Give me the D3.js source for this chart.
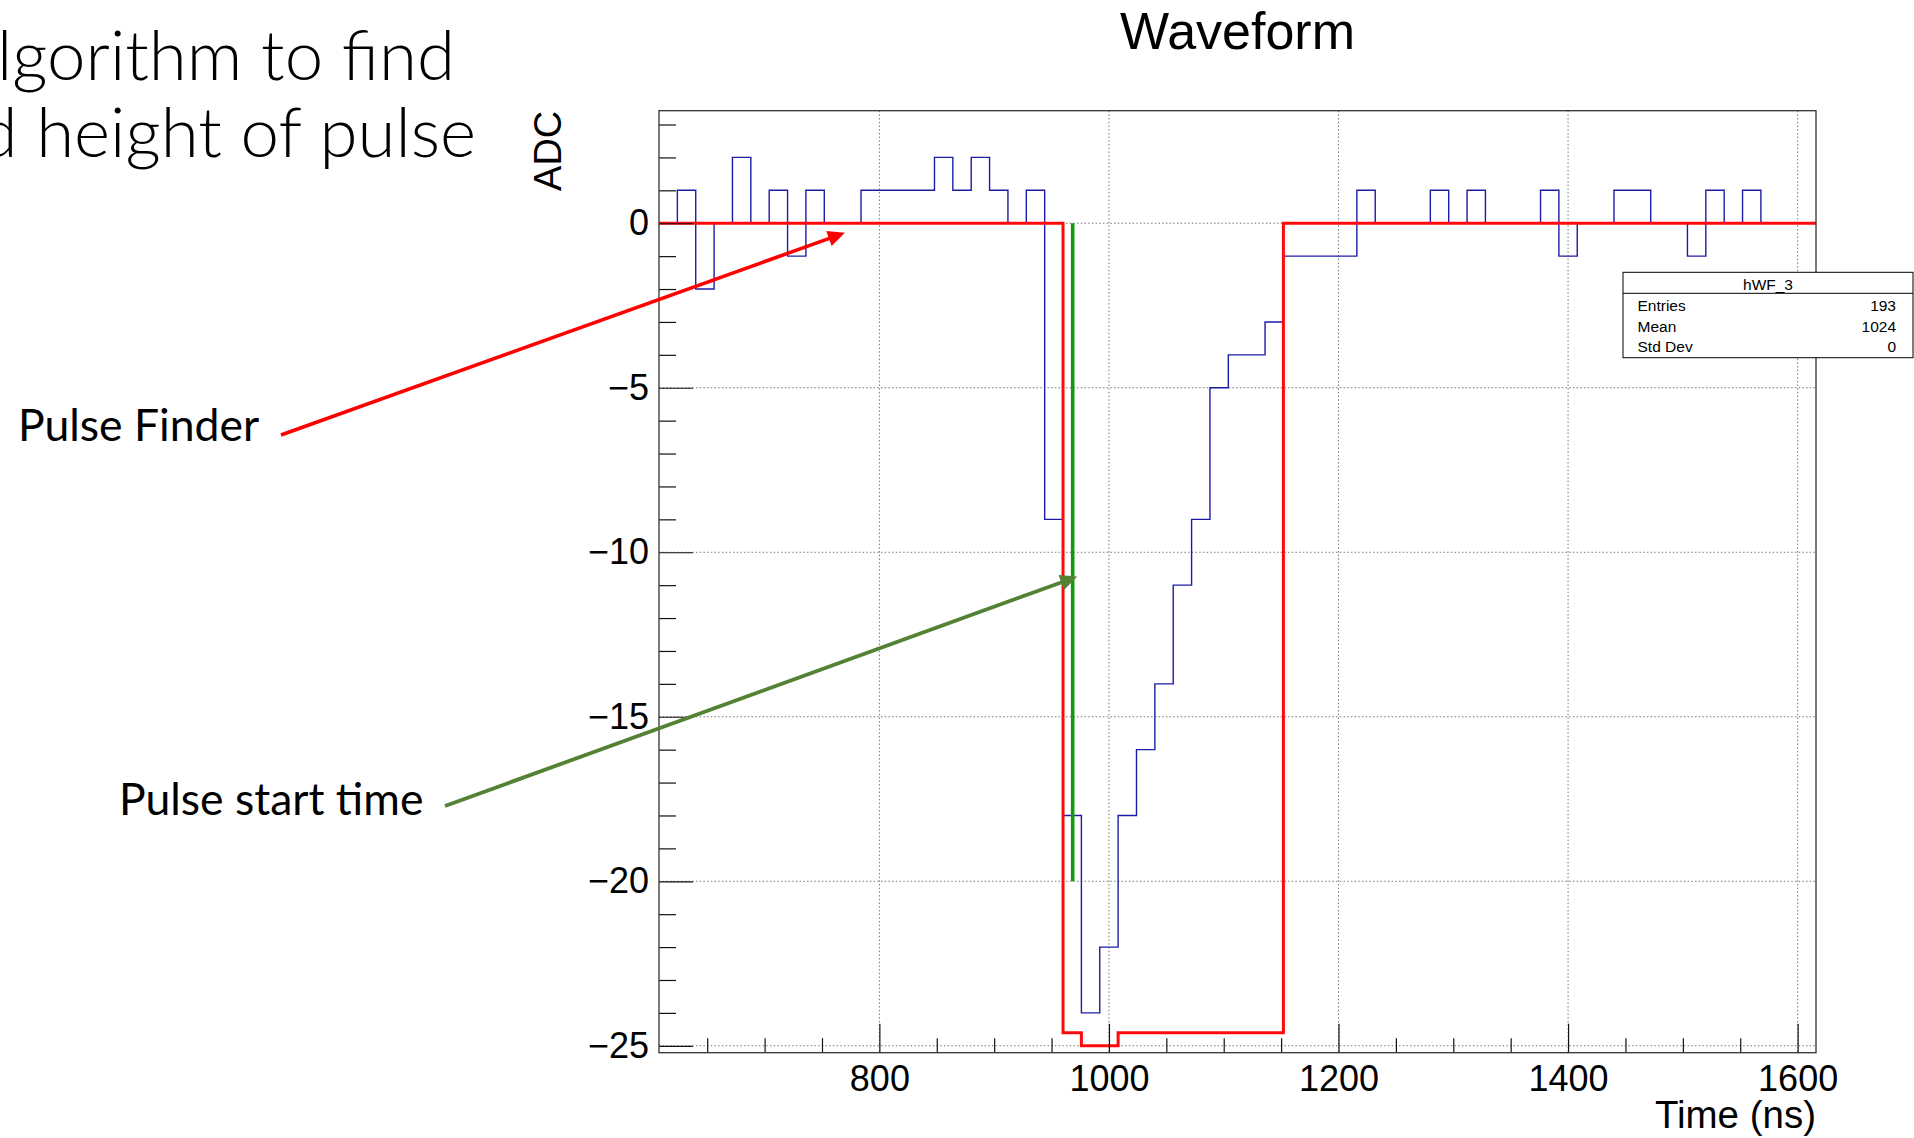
<!DOCTYPE html>
<html>
<head>
<meta charset="utf-8">
<script src="https://cdn.jsdelivr.net/npm/d3@7"></script>
<style>
  html, body { margin: 0; padding: 0; background: #ffffff; }
  svg { display: block; }
</style>
</head>
<body>
<svg id="slide" width="1914" height="1138"></svg>
<script>
// ---- Histogram definition: 63 bins of 16 ns from 608 to 1616 ns ----
const histXMin = 608;
const histXMax = 1616;

// Raw waveform, ADC counts per bin (blue)
const adcCounts = [
   0,  1, -2,  0,  2,  0,  1, -1,  1,  0,
   0,  1,  1,  1,  1,  2,  1,  2,  1,  0,
   1, -9,-18,-24,-22,-18,-16,-14,-11, -9,
  -5, -4, -4, -3, -1, -1, -1, -1,  1,  0,
   0,  0,  1,  0,  1,  0,  0,  0,  1, -1,
   0,  0,  1,  1,  0,  0, -1,  1,  0,  1,
   0,  0,  0
];

// Pulse finder output per bin (red)
const pulseFinder = [
   0,  0,  0,  0,  0,  0,  0,  0,  0,  0,
   0,  0,  0,  0,  0,  0,  0,  0,  0,  0,
   0,  0,-24.6,-25,-25,-24.6,-24.6,-24.6,-24.6,-24.6,
 -24.6,-24.6,-24.6,-24.6, 0,  0,  0,  0,  0,  0,
   0,  0,  0,  0,  0,  0,  0,  0,  0,  0,
   0,  0,  0,  0,  0,  0,  0,  0,  0,  0,
   0,  0,  0
];

// Pulse start time marker (green) and its vertical extent in ADC
const pulseStartTime = 968.4;
const pulseStartSpan = [0, -20];

// Axis ranges and ticks
const yRange = [-25.21, 3.42];
const xMajorTicks = [800, 1000, 1200, 1400, 1600];
const xMinorTicks = [650, 700, 750, 850, 900, 950, 1050, 1100, 1150, 1250, 1300, 1350, 1450, 1500, 1550];
const yMajorTicks = [0, -5, -10, -15, -20, -25];
const yMinorTicks = [3, 2, 1, -1, -2, -3, -4, -6, -7, -8, -9, -11, -12, -13, -14,
                     -16, -17, -18, -19, -21, -22, -23, -24];

// Texts
const chartTitle = "Waveform";
const xTitle = "Time (ns)";
const yTitle = "ADC";
const histName = "hWF_3";
const statLabels = ["Entries", "Mean", "Std Dev"];
const statValues = ["193", "1024", "0"];
const slideLines = ["lgorithm to find", "d height of pulse"];

// Annotation arrows: label text, tail point (px) and tip in data coordinates
const annotations = [
  { text: "Pulse Finder",     textX: 18,  textY: 441, tail: [281, 435], tipT: 770,   tipV: -0.29,  color: "#ff0000", width: 3.6 },
  { text: "Pulse start time", textX: 119, textY: 815, tail: [445, 806], tipT: 972.4, tipV: -10.74, color: "#548235", width: 3.8 }
];

// ---- Layout ----
const frame = { left: 659, right: 1816, top: 110.7, bottom: 1052.7 };
const chartFont = "'Liberation Sans', Arial, Helvetica, sans-serif";
const slideFont = "Lato, 'Open Sans', 'Noto Sans', sans-serif";

const svg = d3.select("#slide");

const x = d3.scaleLinear().domain([histXMin, histXMax]).range([frame.left, frame.right]);
const y = d3.scaleLinear().domain(yRange).range([frame.bottom, frame.top]);

const nBins = adcCounts.length;
const binWidth = (histXMax - histXMin) / nBins;
const edge = i => histXMin + i * binWidth;

// ---- Grid (dotted, at major ticks) ----
const grid = svg.append("g").attr("stroke", "#777").attr("stroke-width", 1)
  .attr("stroke-dasharray", "1.5,2.2").attr("fill", "none");
grid.selectAll("line.gx").data(xMajorTicks).join("line")
  .attr("x1", d => x(d)).attr("x2", d => x(d))
  .attr("y1", frame.top).attr("y2", frame.bottom);
grid.selectAll("line.gy").data(yMajorTicks).join("line")
  .attr("x1", frame.left).attr("x2", frame.right)
  .attr("y1", d => y(d)).attr("y2", d => y(d));

// ---- Histograms as step outlines ----
function stepPoints(values) {
  const pts = [];
  values.forEach((v, i) => { pts.push([edge(i), v]); pts.push([edge(i + 1), v]); });
  return pts;
}
const stepLine = d3.line().x(d => x(d[0])).y(d => y(d[1]));

svg.append("path")
  .attr("d", stepLine(stepPoints(adcCounts)))
  .attr("fill", "none").attr("stroke", "#1c1ca8").attr("stroke-width", 1.4);

svg.append("path")
  .attr("d", stepLine(stepPoints(pulseFinder)))
  .attr("fill", "none").attr("stroke", "#ff0a0a").attr("stroke-width", 3)
  .attr("stroke-linejoin", "miter");

// Pulse start marker
svg.append("line")
  .attr("x1", x(pulseStartTime)).attr("x2", x(pulseStartTime))
  .attr("y1", y(pulseStartSpan[0])).attr("y2", y(pulseStartSpan[1]))
  .attr("stroke", "#0f9a0f").attr("stroke-width", 3.6);

// ---- Axes (ticks drawn inside the frame) ----
function styleAxis(g, size) {
  g.select(".domain").remove();
  g.selectAll(".tick line").attr("stroke", "#111").attr("stroke-width", 1.2);
  g.selectAll("text").attr("font-family", chartFont).attr("font-size", size).attr("fill", "#000");
}

svg.append("g").attr("transform", `translate(${frame.left},0)`)
  .call(d3.axisLeft(y).tickValues(yMinorTicks).tickSizeInner(-17).tickSizeOuter(0).tickFormat(""))
  .call(g => styleAxis(g, 36));
svg.append("g").attr("transform", `translate(${frame.left},0)`)
  .call(d3.axisLeft(y).tickValues(yMajorTicks).tickSizeInner(-34).tickSizeOuter(0).tickPadding(10))
  .call(g => styleAxis(g, 36));

svg.append("g").attr("transform", `translate(0,${frame.bottom})`)
  .call(d3.axisBottom(x).tickValues(xMinorTicks).tickSizeInner(-14.5).tickSizeOuter(0).tickFormat(""))
  .call(g => styleAxis(g, 36));
svg.append("g").attr("transform", `translate(0,${frame.bottom})`)
  .call(d3.axisBottom(x).tickValues(xMajorTicks).tickSizeInner(-29).tickSizeOuter(0).tickPadding(13).tickFormat(d3.format("d")))
  .call(g => styleAxis(g, 36));

// Frame
svg.append("rect")
  .attr("x", frame.left).attr("y", frame.top)
  .attr("width", frame.right - frame.left).attr("height", frame.bottom - frame.top)
  .attr("fill", "none").attr("stroke", "#333").attr("stroke-width", 1.3);

// Titles
svg.append("text").text(chartTitle)
  .attr("x", (frame.left + frame.right) / 2).attr("y", 49)
  .attr("text-anchor", "middle").attr("font-family", chartFont).attr("font-size", 52);
svg.append("text").text(xTitle)
  .attr("x", frame.right).attr("y", 1128)
  .attr("text-anchor", "end").attr("font-family", chartFont).attr("font-size", 38.5);
svg.append("text").text(yTitle)
  .attr("transform", `translate(561,${frame.top}) rotate(-90)`)
  .attr("text-anchor", "end").attr("font-family", chartFont).attr("font-size", 38);

// ---- Statistics box ----
const box = { x: 1623, y: 272.3, w: 290, h: 85.4, header: 21 };
const stats = svg.append("g").attr("font-family", chartFont).attr("font-size", 15.5);
stats.append("rect").attr("x", box.x).attr("y", box.y).attr("width", box.w).attr("height", box.h)
  .attr("fill", "#fff").attr("stroke", "#000").attr("stroke-width", 1);
stats.append("line").attr("x1", box.x).attr("x2", box.x + box.w)
  .attr("y1", box.y + box.header).attr("y2", box.y + box.header)
  .attr("stroke", "#000").attr("stroke-width", 1);
stats.append("text").text(histName)
  .attr("x", box.x + box.w / 2).attr("y", box.y + 17.5).attr("text-anchor", "middle");
const rowY = d3.scaleLinear().domain([0, 2]).range([box.y + 38.6, box.y + 80]);
stats.selectAll("text.lab").data(statLabels).join("text").attr("class", "lab")
  .text(d => d).attr("x", box.x + 14.5).attr("y", (d, i) => rowY(i));
stats.selectAll("text.val").data(statValues).join("text").attr("class", "val")
  .text(d => d).attr("x", box.x + box.w - 17).attr("y", (d, i) => rowY(i)).attr("text-anchor", "end");

// ---- Slide text (cut at the left edge) ----
svg.selectAll("text.slide").data(slideLines).join("text").attr("class", "slide")
  .text(d => d)
  .attr("x", (d, i) => [455, 476][i]).attr("y", (d, i) => [80, 157][i])
  .attr("text-anchor", "end").attr("font-family", slideFont).attr("font-weight", 300)
  .attr("font-size", 69).attr("fill", "#000");

// ---- Annotation labels and arrows ----
function arrow(a) {
  const tip = [x(a.tipT), y(a.tipV)];
  const dx = tip[0] - a.tail[0], dy = tip[1] - a.tail[1];
  const len = Math.hypot(dx, dy);
  const ux = dx / len, uy = dy / len, nx = -uy, ny = ux;
  const L = 17, W = 8;
  const base = [tip[0] - L * ux, tip[1] - L * uy];
  svg.append("line")
    .attr("x1", a.tail[0]).attr("y1", a.tail[1])
    .attr("x2", base[0] + 2 * ux).attr("y2", base[1] + 2 * uy)
    .attr("stroke", a.color).attr("stroke-width", a.width);
  svg.append("polygon")
    .attr("points", [tip, [base[0] + W * nx, base[1] + W * ny], [base[0] - W * nx, base[1] - W * ny]]
      .map(p => p.join(",")).join(" "))
    .attr("fill", a.color);
  svg.append("text").text(a.text)
    .attr("x", a.textX).attr("y", a.textY)
    .attr("font-family", slideFont).attr("font-size", 44.5).attr("fill", "#000");
}
annotations.forEach(arrow);
</script>
</body>
</html>
